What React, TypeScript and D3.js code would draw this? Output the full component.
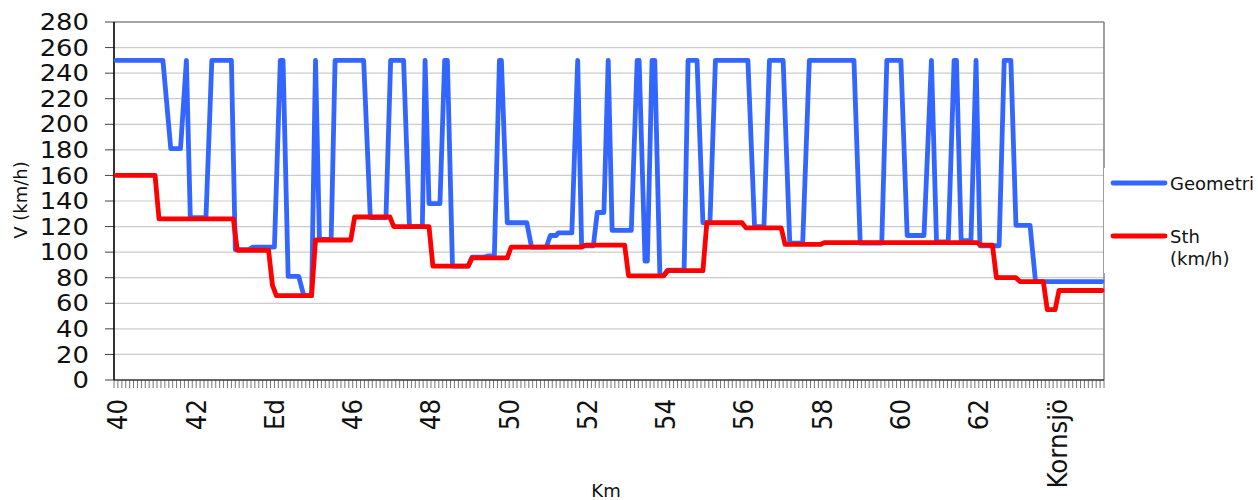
import React from "react";
import * as d3 from "d3";

// ---- data ----
const geomKm = [40.0, 41.2, 41.4, 41.65, 41.8, 41.9, 42.3, 42.45, 42.95, 43.05, 43.4, 43.5, 44.05, 44.2, 44.27, 44.4, 44.67, 44.8, 45.0, 45.1, 45.2, 45.5, 45.6, 46.33, 46.5, 46.9, 47.02, 47.35, 47.5, 47.83, 47.9, 48.0, 48.28, 48.4, 48.47, 48.6, 49.0, 49.1, 49.4, 49.5, 49.67, 49.8, 49.85, 50.0, 50.5, 50.62, 51.0, 51.1, 51.25, 51.3, 51.65, 51.8, 51.9, 52.2, 52.3, 52.47, 52.58, 52.68, 53.17, 53.32, 53.37, 53.52, 53.58, 53.7, 53.77, 53.9, 54.0, 54.1, 54.52, 54.62, 54.85, 55.0, 55.18, 55.32, 56.15, 56.32, 56.56, 56.7, 57.05, 57.22, 57.55, 57.72, 58.86, 59.02, 59.57, 59.7, 60.06, 60.22, 60.65, 60.84, 60.97, 61.27, 61.42, 61.48, 61.6, 61.85, 61.98, 62.08, 62.57, 62.7, 62.87, 63.0, 63.36, 63.5, 65.2];
const geomV = [250, 250, 181, 181, 250, 127, 127, 250, 250, 102, 102, 104, 104, 250, 250, 81, 81, 66, 66, 250, 110, 110, 250, 250, 127, 127, 250, 250, 120, 120, 250, 138, 138, 250, 250, 89, 89, 96, 96, 97, 97, 250, 250, 123, 123, 104, 104, 113, 113, 115, 115, 250, 105, 105, 131, 131, 250, 117, 117, 250, 250, 93, 93, 250, 250, 82, 82, 86, 86, 250, 250, 123, 123, 250, 250, 120, 120, 250, 250, 107, 107, 250, 250, 107, 107, 250, 250, 113, 113, 250, 108, 108, 250, 250, 109, 109, 250, 105, 105, 250, 250, 121, 121, 77, 77];

const sthKm = [40.0, 41.0, 41.1, 43.0, 43.1, 43.9, 44.0, 44.1, 45.0, 45.1, 46.0, 46.1, 47.0, 47.1, 48.0, 48.1, 49.0, 49.1, 50.0, 50.1, 51.9, 52.0, 53.0, 53.1, 54.0, 54.1, 55.0, 55.1, 56.0, 56.1, 57.0, 57.1, 58.0, 58.1, 62.0, 62.1, 62.4, 62.5, 63.0, 63.1, 63.7, 63.8, 64.0, 64.1, 65.2];
const sthV = [160, 160, 126, 126, 101.5, 101.5, 74, 66, 66, 109.5, 109.5, 127.5, 127.5, 120, 120, 89, 89, 95.5, 95.5, 104, 104, 105.5, 105.5, 81.5, 81.5, 85.5, 85.5, 123, 123, 119, 119, 106, 106, 107.5, 107.5, 105.5, 105.5, 80, 80, 77, 77, 55, 55, 70, 70];

const yTicks = [0, 20, 40, 60, 80, 100, 120, 140, 160, 180, 200, 220, 240, 260, 280];
const xLabelKm = [40, 42, 44, 46, 48, 50, 52, 54, 56, 58, 60, 62, 64];
const xLabelText = ["40", "42", "Ed", "46", "48", "50", "52", "54", "56", "58", "60", "62", "Kornsjö"];
const seriesNames = ["Geometri", "Sth\n(km/h)"];
const seriesColors = ["#3366ff", "#ff0000"];

// ---- layout ----
const W = 1258;
const H = 500;
const left = 114;
const right = 1104;
const top = 22;
const bottom = 380;
const FONT = "DejaVu Sans, Verdana, sans-serif";

export default function App() {
  const x = d3.scaleLinear().domain([39.95, 65.25]).range([left, right]);
  const y = d3.scaleLinear().domain([0, 280]).range([bottom, top]);

  const line = d3
    .line<[number, number]>()
    .x((d) => x(d[0]))
    .y((d) => y(d[1]));

  const geomPts = geomKm.map((k, i) => [k, geomV[i]] as [number, number]);
  const sthPts = sthKm.map((k, i) => [k, sthV[i]] as [number, number]);

  const minorTicks = d3.range(0, 254).map((i) => 39.95 + i * 0.1);

  return (
    <svg
      width={W}
      height={H}
      style={{ position: "absolute", left: 0, top: 0, background: "#fff" }}
      fontFamily={FONT}
    >
      <rect x={0} y={0} width={W} height={H} fill="#fff" />
      {/* gridlines */}
      {yTicks
        .filter((t) => t > 0 && t < 280)
        .map((t) => (
          <line key={"g" + t} x1={left} x2={right} y1={y(t)} y2={y(t)} stroke="#cccccc" strokeWidth={1.2} />
        ))}
      {/* border top/right */}
      <line x1={left} x2={right} y1={y(280)} y2={y(280)} stroke="#888" strokeWidth={1.6} />
      <line x1={right} x2={right} y1={y(280)} y2={y(0)} stroke="#888" strokeWidth={1.6} />

      {/* y ticks + labels */}
      {yTicks.map((t) => (
        <g key={"y" + t}>
          <line x1={left - 9} x2={left} y1={y(t)} y2={y(t)} stroke="#444" strokeWidth={1} />
          <text
            transform={`translate(89,${y(t)}) scale(1.1,1)`}
            textAnchor="end"
            dominantBaseline="central"
            fontSize={23.5}
            fill="#111"
          >
            {t}
          </text>
        </g>
      ))}

      {/* x minor ticks */}
      {minorTicks.map((k, i) => (
        <line key={"t" + i} x1={x(k)} x2={x(k)} y1={bottom} y2={bottom + 8} stroke="#555" strokeWidth={0.8} />
      ))}

      {/* x labels */}
      {xLabelKm.map((k, i) => (
        <text
          key={"xl" + i}
          transform={`translate(${x(k) + 2},${399}) scale(1.1,1) rotate(-90)`}
          textAnchor="end"
          dominantBaseline="central"
          fontSize={24.5}
          fill="#111"
        >
          {xLabelText[i]}
        </text>
      ))}

      {/* axes */}
      <line x1={left} x2={left} y1={y(280)} y2={y(0)} stroke="#000" strokeWidth={1.6} />
      <line x1={left} x2={right} y1={y(0)} y2={y(0)} stroke="#333" strokeWidth={1.6} />

      {/* series */}
      <path d={line(geomPts) || ""} fill="none" stroke={seriesColors[0]} strokeWidth={4.8} strokeLinejoin="round" strokeLinecap="round" />
      <path d={line(sthPts) || ""} fill="none" stroke={seriesColors[1]} strokeWidth={4.8} strokeLinejoin="round" strokeLinecap="round" />

      {/* axis titles */}
      <text transform={`translate(20,200) rotate(-90)`} textAnchor="middle" dominantBaseline="central" fontSize={18} fill="#111">
        V (km/h)
      </text>
      <text x={606} y={497} textAnchor="middle" fontSize={18} fill="#111">
        Km
      </text>

      {/* legend */}
      <rect x={1104} y={168} width={154} height={105} fill="#fff" />
      <line x1={1113} x2={1165} y1={183} y2={183} stroke={seriesColors[0]} strokeWidth={4.8} strokeLinecap="round" />
      <text x={1170} y={183} dominantBaseline="central" fontSize={18} fill="#111">
        {seriesNames[0]}
      </text>
      <line x1={1113} x2={1165} y1={236} y2={236} stroke={seriesColors[1]} strokeWidth={4.8} strokeLinecap="round" />
      {seriesNames[1].split("\n").map((s, i) => (
        <text key={"lg" + i} x={1170} y={236 + i * 22} dominantBaseline="central" fontSize={18} fill="#111">
          {s}
        </text>
      ))}
    </svg>
  );
}
